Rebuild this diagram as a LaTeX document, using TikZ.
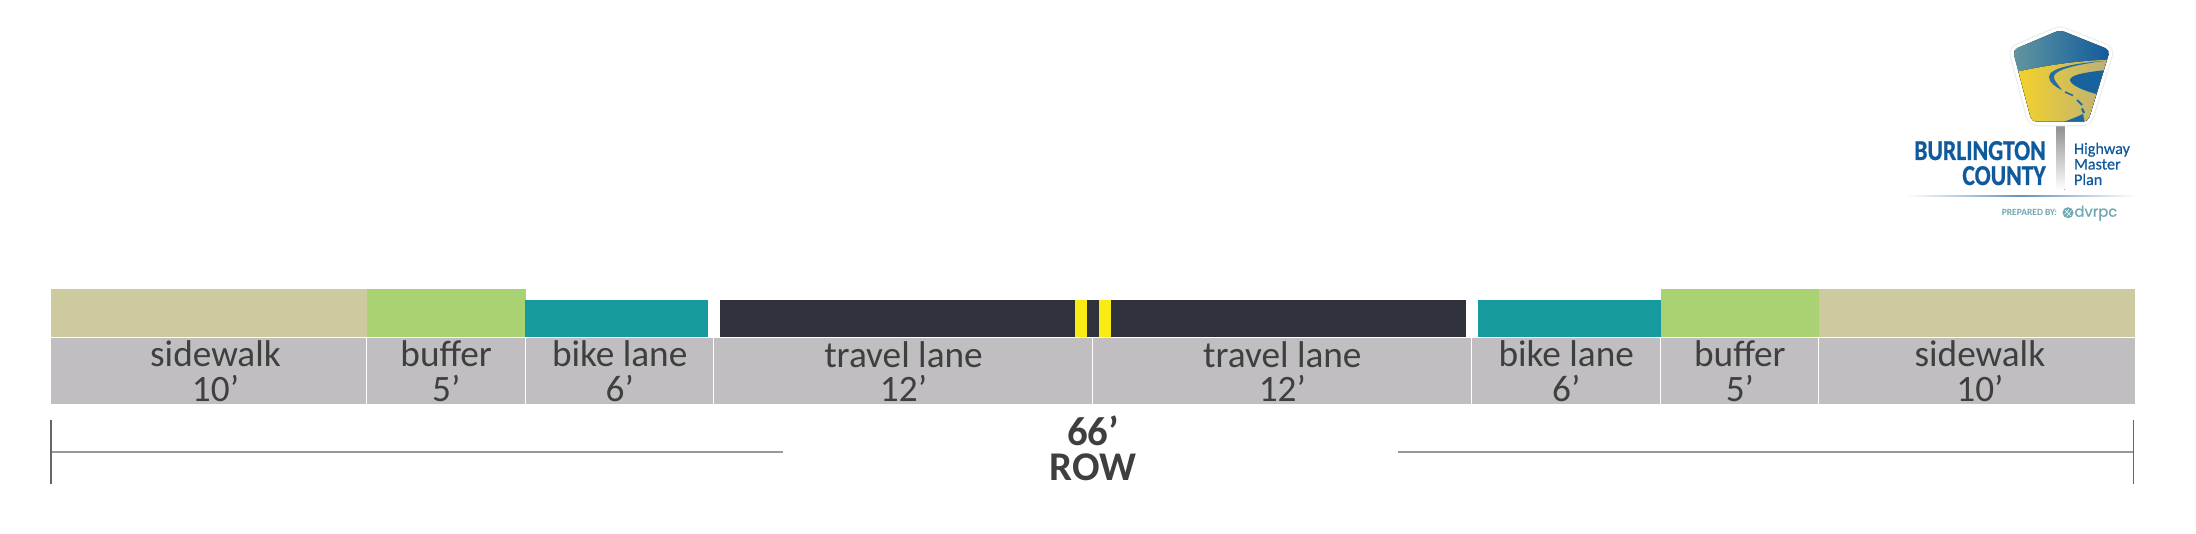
\documentclass[tikz,border=0pt]{standalone}
\usepackage{fontspec}
\setmainfont{Carlito}
\newfontfamily\dvrpcfont[FakeBold=0.9]{Poppins}
\newfontfamily\logofont[FakeStretch=0.82,FakeBold=0.8]{Carlito}
\newfontfamily\planfont[FakeBold=0.6]{Carlito}
\usetikzlibrary{arrows.meta,positioning}
\definecolor{walkcol}{HTML}{CDCA9F}
\definecolor{buffercol}{HTML}{A9D373}
\definecolor{bikecol}{HTML}{179A9E}
\definecolor{roadcol}{HTML}{2F323A}
\definecolor{stripecol}{HTML}{F9EC15}
\definecolor{labelcol}{HTML}{C0BEC1}
\definecolor{inkcol}{HTML}{3F3F3F}
\definecolor{logoblue}{HTML}{0F5A9C}
\definecolor{logoteal}{HTML}{6FA8B2}
\definecolor{logogold}{HTML}{F9D522}
\definecolor{logosand}{HTML}{B8AE7E}

\begin{document}
\begin{tikzpicture}[
  x=0.01cm, y=-0.01cm,
  band/.style={inner sep=0pt, outer sep=0pt, minimum height=#1},
  cell/.style={fill=labelcol, draw=white, line width=0.3pt, inner sep=0pt, outer sep=0pt, minimum height=0.673cm, align=center, text=inkcol, font=\fontsize{10.6}{9.76}\selectfont},
  dimline/.style={line width=0.75pt, color=black!40},
  dimtick/.style={line width=0.3pt, color=black!60},
  sign/.style={rounded corners=1.4pt, line join=round},
  logotext/.style={inner sep=0pt, outer sep=0pt, text=logoblue}
]
  \useasboundingbox (0,0) rectangle (2196,534);

  % Upper bands, left to right
  \node[band=0.487cm, fill=walkcol, minimum width=3.16cm] (walkL) at (209,313.3) {};
  \node[band=0.487cm, fill=buffercol, minimum width=1.585cm] (bufL) at (446.2,313.3) {};
  \node[band=0.38cm, fill=bikecol, minimum width=1.825cm] (bikeL) at (616.7,318.7) {};
  \node[band=0.38cm, fill=roadcol, minimum width=7.455cm] (road) at (1092.7,318.7) {};
  \node[band=0.38cm, fill=stripecol, minimum width=0.12cm] (stripeA) at (1081,318.7) {};
  \node[band=0.38cm, fill=stripecol, minimum width=0.12cm] (stripeB) at (1105.2,318.7) {};
  \node[band=0.38cm, fill=bikecol, minimum width=1.83cm] (bikeR) at (1569.5,318.7) {};
  \node[band=0.487cm, fill=buffercol, minimum width=1.578cm] (bufR) at (1739.9,313.3) {};
  \node[band=0.487cm, fill=walkcol, minimum width=3.162cm] (walkR) at (1976.9,313.3) {};

  % Label cells
  \node[cell, minimum width=3.16cm] (walkLtxt) at (209,371.3) {\hspace*{0.13cm}sidewalk\\\hspace*{0.13cm}10’};
  \node[cell, minimum width=1.585cm] (bufLtxt) at (446.2,371.3) {buffer\\5’};
  \node[cell, minimum width=1.885cm] (bikeLtxt) at (619.7,371.3) {bike lane\\6’};
  \node[cell, minimum width=3.79cm] (laneL) at (903.5,371.3) {travel lane\\12’};
  \node[cell, minimum width=3.786cm] (laneR) at (1282.3,371.3) {travel lane\\12’};
  \node[cell, minimum width=1.894cm] (bikeRtxt) at (1566.3,371.3) {bike lane\\6’};
  \node[cell, minimum width=1.578cm] (bufRtxt) at (1739.9,371.3) {buffer\\5’};
  \node[cell, minimum width=3.162cm] (walkRtxt) at (1976.9,371.3) {\hspace*{0.06cm}sidewalk\\\hspace*{0.06cm}10’};

  % Right of way dimension
  \node[align=center, inner sep=0pt, text=inkcol, font=\bfseries\fontsize{11.6}{9.76}\selectfont] (row) at (1093,448.3) {66’\\ROW};
  \coordinate (tickLa) at (51,420);
  \coordinate (tickLb) at (51,484);
  \coordinate (tickRa) at (2133.5,420);
  \coordinate (tickRb) at (2133.5,484);
  \coordinate (dimL) at (51,452);
  \coordinate (dimR) at (2133.5,452);
  \coordinate (gapL) at (783,452);
  \coordinate (gapR) at (1398,452);
  \draw[dimline] (dimL) -- (gapL);
  \draw[dimline] (gapR) -- (dimR);
  \draw[dimtick] (tickLa) -- (tickLb);
  \draw[dimtick] (tickRa) -- (tickRb);

  % Logo: post and sign
  \fill[top color=black!45, bottom color=white] (2056.5,124) rectangle (2064.5,190);
  \draw[sign, black!7, fill=white, line width=2.6pt] (2060,30) -- (2110,50) -- (2088,121.7) -- (2031.7,121.7) -- (2012.7,50) -- cycle;
  \draw[sign, white, fill=white, line width=1.9pt] (2060,30) -- (2110,50) -- (2088,121.7) -- (2031.7,121.7) -- (2012.7,50) -- cycle;
  \begin{scope}[rounded corners=1.4pt]
    \clip (2060,30) -- (2110,50) -- (2088,121.7) -- (2031.7,121.7) -- (2012.7,50) -- cycle;
    \fill[sharp corners, left color=logoteal!90!black, right color=logoblue] (2010,28) rectangle (2112,124);
    \fill[sharp corners, left color=logogold, right color=logosand] (2010,72) -- (2016.7,71.7) .. controls (2040,67) and (2070,61) .. (2112,59.5) -- (2112,124) -- (2010,124) -- cycle;
    \fill[sharp corners, logoblue!90!logoteal] (2112,69.5) .. controls (2085,72) and (2069,75) .. (2070,80.5) .. controls (2072,87) and (2090,93) .. (2112,98) -- cycle;
    \fill[sharp corners, logoblue!75!logoteal] (2106,60.8) .. controls (2075,63) and (2049,68) .. (2049,77) .. controls (2049,82) and (2055,87) .. (2062,90) .. controls (2058,84) and (2053,80) .. (2054,76) .. controls (2056,69) and (2080,64) .. (2106,60.8) -- cycle;
    \draw[logoblue!85!logoteal, line width=0.45pt] (2065,92) -- (2073,95.5);
    \draw[logoblue!85!logoteal, line width=0.5pt] (2077,100) -- (2082,105);
    \draw[logoblue!85!logoteal, line width=0.6pt] (2082,108.5) -- (2084,113);
    \fill[sharp corners, logoblue!85!logoteal] (2063,122) .. controls (2072,119) and (2079,116) .. (2083,114) -- (2085,124) -- cycle;
  \end{scope}

  % Logo: wording
  \node[logotext, anchor=base east, font=\logofont\bfseries\fontsize{8.2}{8.2}\selectfont] (burl) at (2045.7,160) {BURLINGTON};
  \node[logotext, anchor=base east, font=\logofont\bfseries\fontsize{8.2}{8.2}\selectfont] (county) at (2045.7,185) {COUNTY};
  \node[logotext, anchor=base west, font=\planfont\fontsize{4.6}{4.6}\selectfont] (hwy) at (2074,154) {Highway};
  \node[logotext, anchor=base west, font=\planfont\fontsize{4.6}{4.6}\selectfont] (master) at (2074,169.5) {Master};
  \node[logotext, anchor=base west, font=\planfont\fontsize{4.6}{4.6}\selectfont] (plan) at (2074,185) {Plan};
  \fill[left color=white, right color=white, middle color=logoblue!65] (1905,195.2) rectangle (2137,197);
  \node[logotext, text=logoteal, anchor=base east, font=\bfseries\fontsize{2.7}{2.7}\selectfont] (prep) at (2057,215.7) {PREPARED BY:};
  \fill[logoteal] (2068,212.7) circle (5.5);
  \draw[white, line width=0.15pt] (2064.5,214.5) -- (2069,209) (2066.5,216.5) -- (2071.5,210.5) (2065,210) -- (2071,216);
  \node[logotext, text=logoteal, anchor=base west, font=\dvrpcfont\fontsize{4.2}{4.2}\selectfont] (dvrpc) at (2074.5,216.7) {dvrpc};
\end{tikzpicture}
\end{document}
